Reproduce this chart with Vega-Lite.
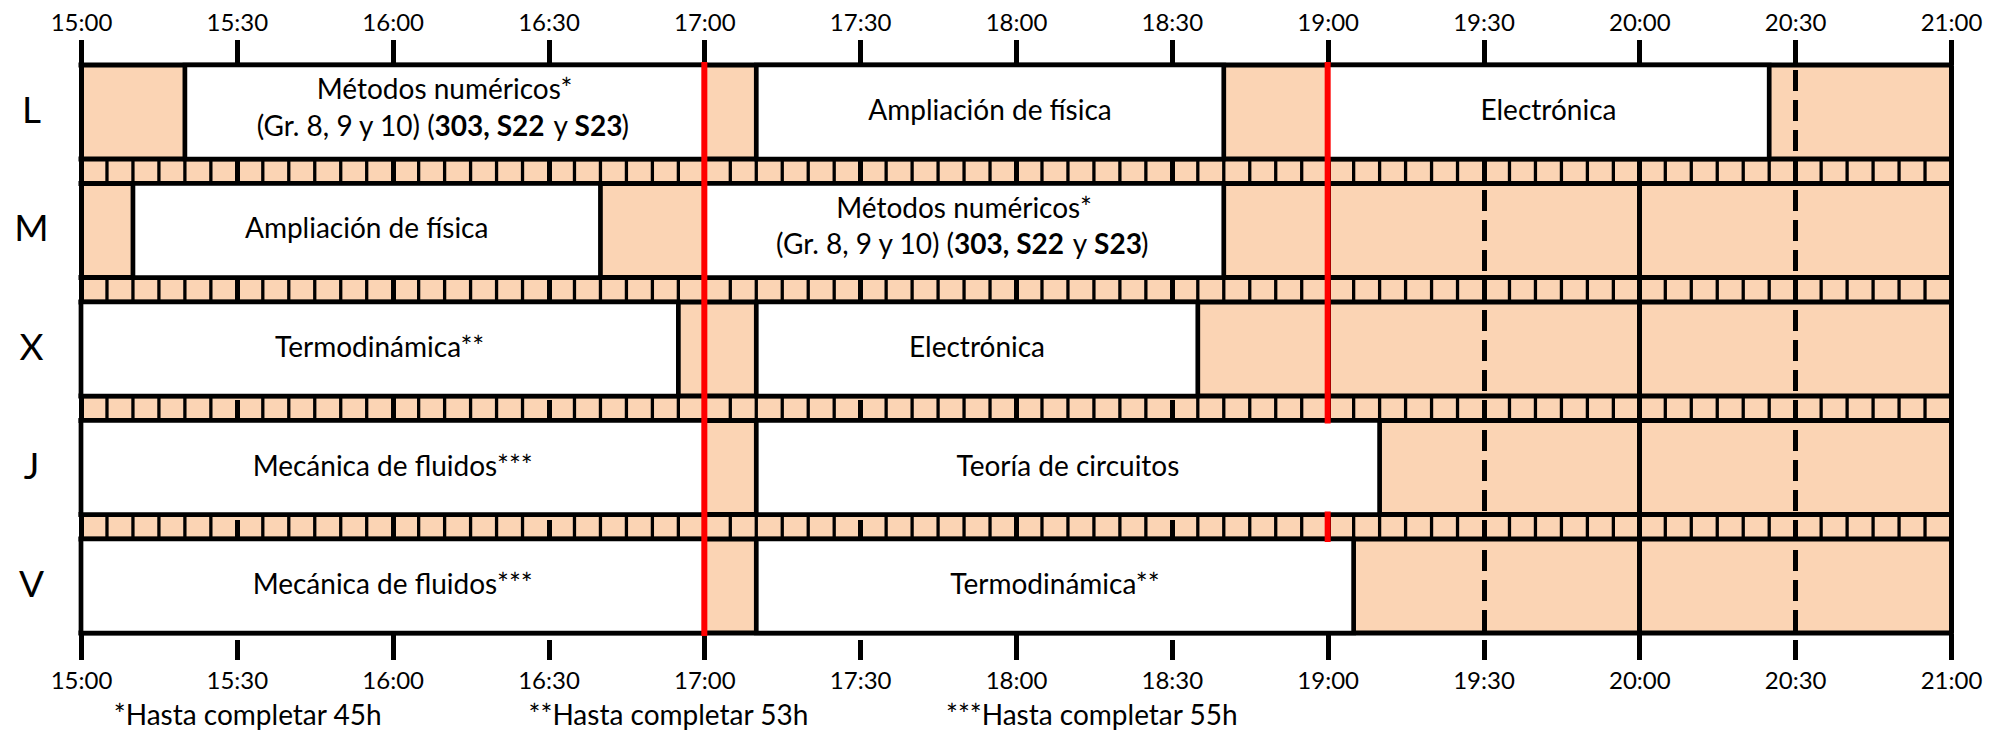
{
  "$schema": "https://vega.github.io/schema/vega-lite/v6.json",
  "width": 1870,
  "height": 568,
  "autosize": {"type": "none"},
  "padding": {"left": 81, "top": 65, "right": 61, "bottom": 101},
  "background": "white",
  "config": {
    "view": {"fill": "#FBD4B4", "stroke": null},
    "font": "Lato",
    "text": {"font": "Lato", "fontSize": 28, "color": "black"},
    "axis": {"labelFont": "Lato", "labelColor": "black", "title": null, "domain": false, "labelLimit": 600},
    "axisY": {"labelFontSize": 37, "ticks": false, "tickSize": 0, "labelPadding": 50, "labelAlign": "center", "labelBaseline": "middle", "grid": false, "title": null, "domain": false}
  },
  "datasets": {
    "blocks": [
      {"day": "L", "start": 920, "end": 1020, "label": "Métodos numéricos*", "detail": true},
      {"day": "L", "start": 1030, "end": 1120, "label": "Ampliación de física", "detail": false},
      {"day": "L", "start": 1140, "end": 1225, "label": "Electrónica", "detail": false},
      {"day": "M", "start": 910, "end": 1000, "label": "Ampliación de física", "detail": false},
      {"day": "M", "start": 1020, "end": 1120, "label": "Métodos numéricos*", "detail": true},
      {"day": "X", "start": 900, "end": 1015, "label": "Termodinámica**", "detail": false},
      {"day": "X", "start": 1030, "end": 1115, "label": "Electrónica", "detail": false},
      {"day": "J", "start": 900, "end": 1020, "label": "Mecánica de fluidos***", "detail": false},
      {"day": "J", "start": 1030, "end": 1150, "label": "Teoría de circuitos", "detail": false},
      {"day": "V", "start": 900, "end": 1020, "label": "Mecánica de fluidos***", "detail": false},
      {"day": "V", "start": 1030, "end": 1145, "label": "Termodinámica**", "detail": false}
    ],
    "days": [{"day": "L"}, {"day": "M"}, {"day": "X"}, {"day": "J"}, {"day": "V"}],
    "cells": [
      {"m": 905}, {"m": 910}, {"m": 915}, {"m": 920}, {"m": 925},
      {"m": 935}, {"m": 940}, {"m": 945}, {"m": 950}, {"m": 955},
      {"m": 965}, {"m": 970}, {"m": 975}, {"m": 980}, {"m": 985},
      {"m": 995}, {"m": 1000}, {"m": 1005}, {"m": 1010}, {"m": 1015},
      {"m": 1025}, {"m": 1030}, {"m": 1035}, {"m": 1040}, {"m": 1045},
      {"m": 1055}, {"m": 1060}, {"m": 1065}, {"m": 1070}, {"m": 1075},
      {"m": 1085}, {"m": 1090}, {"m": 1095}, {"m": 1100}, {"m": 1105},
      {"m": 1115}, {"m": 1120}, {"m": 1125}, {"m": 1130}, {"m": 1135},
      {"m": 1145}, {"m": 1150}, {"m": 1155}, {"m": 1160}, {"m": 1165},
      {"m": 1175}, {"m": 1180}, {"m": 1185}, {"m": 1190}, {"m": 1195},
      {"m": 1205}, {"m": 1210}, {"m": 1215}, {"m": 1220}, {"m": 1225},
      {"m": 1235}, {"m": 1240}, {"m": 1245}, {"m": 1250}, {"m": 1255}
    ],
    "redlines": [{"m": 1020}, {"m": 1140}]
  },
  "layer": [
    {
      "data": {"name": "cells"},
      "mark": {"type": "rule", "color": "black", "strokeWidth": 3.3},
      "encoding": {
        "x": {
          "field": "m", "type": "quantitative",
          "scale": {"domain": [900, 1260], "nice": false, "zero": false},
          "axis": {
            "orient": "bottom",
            "values": [900, 930, 960, 990, 1020, 1050, 1080, 1110, 1140, 1170, 1200, 1230, 1260],
            "labelExpr": "floor(datum.value/60) + ':' + (datum.value % 60 == 0 ? '00' : '30')",
            "labelFontSize": 24, "labelBaseline": "alphabetic", "labelPadding": 29,
            "labelFlush": false, "labelOverlap": false, "labelBound": false,
            "ticks": true, "tickSize": 26.5, "tickWidth": 5, "tickColor": "black", "tickOpacity": 1,
            "tickDash": {"condition": {"test": "datum.value % 60 != 0", "value": [21, 9]}, "value": []},
            "tickDashOffset": 23.5,
            "grid": false, "domain": false
          }
        },
        "y": {
          "datum": "L", "type": "nominal", "bandPosition": 1,
          "scale": {"type": "band", "domain": ["L", "M", "X", "J", "V"], "paddingInner": 0.2068, "paddingOuter": 0}
        },
        "y2": {"datum": "M", "bandPosition": 0}
      }
    },
    {
      "data": {"name": "cells"},
      "mark": {"type": "rule", "color": "black", "strokeWidth": 3.3},
      "encoding": {
        "x": {
          "field": "m", "type": "quantitative",
          "axis": {
            "orient": "bottom",
            "values": [932, 1013, 1094.5],
            "labelExpr": "datum.value < 1000 ? '*Hasta completar 45h' : datum.value < 1050 ? '**Hasta completar 53h' : '***Hasta completar 55h'",
            "labelFontSize": 28, "labelBaseline": "middle", "labelPadding": 83.5, "labelLimit": 600,
            "labelFlush": false, "labelOverlap": false, "labelBound": false,
            "ticks": false, "tickSize": 0, "grid": false, "domain": false
          }
        },
        "y": {"datum": "M", "type": "nominal", "bandPosition": 1},
        "y2": {"datum": "X", "bandPosition": 0}
      }
    },
    {
      "data": {"name": "cells"},
      "mark": {"type": "rule", "color": "black", "strokeWidth": 3.3},
      "encoding": {
        "x": {"field": "m", "type": "quantitative", "axis": null},
        "y": {"datum": "X", "type": "nominal", "bandPosition": 1},
        "y2": {"datum": "J", "bandPosition": 0}
      }
    },
    {
      "data": {"name": "cells"},
      "mark": {"type": "rule", "color": "black", "strokeWidth": 3.3},
      "encoding": {
        "x": {"field": "m", "type": "quantitative", "axis": null},
        "y": {"datum": "J", "type": "nominal", "bandPosition": 1},
        "y2": {"datum": "V", "bandPosition": 0}
      }
    },
    {
      "data": {"name": "days"},
      "mark": {"type": "rule", "color": "black", "strokeWidth": 5, "strokeCap": "square"},
      "encoding": {
        "x": {"datum": 900, "type": "quantitative", "axis": null},
        "x2": {"datum": 1260},
        "y": {"field": "day", "type": "nominal", "bandPosition": 0}
      }
    },
    {
      "data": {"name": "days"},
      "mark": {"type": "rule", "color": "black", "strokeWidth": 5, "strokeCap": "square"},
      "encoding": {
        "x": {"datum": 900, "type": "quantitative", "axis": null},
        "x2": {"datum": 1260},
        "y": {"field": "day", "type": "nominal", "bandPosition": 1}
      }
    },
    {
      "data": {"name": "blocks"},
      "mark": {"type": "rect", "fill": "white", "stroke": "black", "strokeWidth": 4.7},
      "encoding": {
        "x": {
          "field": "start", "type": "quantitative",
          "axis": {
            "orient": "top",
            "values": [900, 930, 960, 990, 1020, 1050, 1080, 1110, 1140, 1170, 1200, 1230, 1260],
            "labelExpr": "floor(datum.value/60) + ':' + (datum.value % 60 == 0 ? '00' : '30')",
            "labelFontSize": 24, "labelBaseline": "alphabetic", "labelPadding": 9.3,
            "labelFlush": false, "labelOverlap": false, "labelBound": false,
            "ticks": true, "tickSize": 25.5, "tickWidth": 5, "tickColor": "black", "tickOpacity": 1,
            "grid": true, "gridColor": "black", "gridOpacity": 1, "gridWidth": 5,
            "gridDash": {"condition": {"test": "datum.value % 60 != 0", "value": [21, 9]}, "value": []},
            "gridDashOffset": 25.5,
            "domain": false
          }
        },
        "x2": {"field": "end"},
        "y": {"field": "day", "type": "nominal"}
      }
    },
    {
      "data": {"name": "blocks"},
      "transform": [
        {"filter": "!datum.detail"},
        {"fold": ["start", "end"], "as": ["edge", "t"]},
        {"aggregate": [{"op": "mean", "field": "t", "as": "mid"}], "groupby": ["day", "label"]}
      ],
      "mark": {"type": "text", "fontSize": 28, "align": "center", "baseline": "middle"},
      "encoding": {
        "x": {"field": "mid", "type": "quantitative", "axis": null},
        "y": {"field": "day", "type": "nominal"},
        "text": {"field": "label"}
      }
    },
    {
      "data": {"name": "blocks"},
      "transform": [
        {"filter": "datum.detail"},
        {"fold": ["start", "end"], "as": ["edge", "t"]},
        {"aggregate": [{"op": "mean", "field": "t", "as": "mid"}], "groupby": ["day", "label"]}
      ],
      "layer": [
        {
          "mark": {"type": "text", "fontSize": 28, "align": "center", "baseline": "middle", "dy": -20.5},
          "encoding": {"text": {"field": "label"}}
        },
        {
          "mark": {"type": "text", "fontSize": 28, "align": "right", "baseline": "middle", "dy": 16, "dx": -10},
          "encoding": {"text": {"value": "(Gr. 8, 9 y 10) ("}}
        },
        {
          "mark": {"type": "text", "fontSize": 28, "fontWeight": "bold", "align": "left", "baseline": "middle", "dy": 16, "dx": -10},
          "encoding": {"text": {"value": "303, S22"}}
        },
        {
          "mark": {"type": "text", "fontSize": 28, "align": "center", "baseline": "middle", "dy": 16, "dx": 116},
          "encoding": {"text": {"value": "y"}}
        },
        {
          "mark": {"type": "text", "fontSize": 28, "fontWeight": "bold", "align": "left", "baseline": "middle", "dy": 16, "dx": 130},
          "encoding": {"text": {"value": "S23"}}
        },
        {
          "mark": {"type": "text", "fontSize": 28, "align": "left", "baseline": "middle", "dy": 16, "dx": 177},
          "encoding": {"text": {"value": ")"}}
        }
      ],
      "encoding": {
        "x": {"field": "mid", "type": "quantitative", "axis": null},
        "y": {"field": "day", "type": "nominal"}
      }
    },
    {
      "data": {"name": "redlines"},
      "transform": [{"filter": "datum.m == 1020"}],
      "mark": {"type": "rule", "color": "#FF0000", "strokeWidth": 6, "strokeCap": "square"},
      "encoding": {
        "x": {"field": "m", "type": "quantitative", "axis": null},
        "y": {"datum": "L", "type": "nominal", "bandPosition": 0},
        "y2": {"datum": "V", "bandPosition": 1}
      }
    },
    {
      "data": {"name": "redlines"},
      "transform": [{"filter": "datum.m == 1140"}],
      "mark": {"type": "rule", "color": "#FF0000", "strokeWidth": 6, "strokeCap": "square"},
      "encoding": {
        "x": {"field": "m", "type": "quantitative", "axis": null},
        "y": {"datum": "L", "type": "nominal", "bandPosition": 0},
        "y2": {"datum": "J", "bandPosition": 0}
      }
    },
    {
      "data": {"name": "redlines"},
      "transform": [{"filter": "datum.m == 1140"}],
      "mark": {"type": "rule", "color": "#FF0000", "strokeWidth": 6, "strokeCap": "square"},
      "encoding": {
        "x": {"field": "m", "type": "quantitative", "axis": null},
        "y": {"datum": "J", "type": "nominal", "bandPosition": 1},
        "y2": {"datum": "V", "bandPosition": 0}
      }
    }
  ],
  "resolve": {"axis": {"x": "independent"}}
}
